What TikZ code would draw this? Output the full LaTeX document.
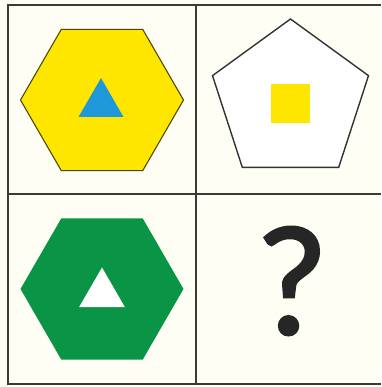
\documentclass[tikz,border=0pt]{standalone}
\usepackage{fontspec}
\newfontfamily\qfont[FakeBold=2]{Lato}
\usetikzlibrary{shapes.geometric}
\definecolor{paper}{HTML}{FFFEF4}
\definecolor{hexyellow}{HTML}{FFE600}
\definecolor{triblue}{HTML}{1E98D8}
\definecolor{hexgreen}{HTML}{0A9546}
\definecolor{gridline}{HTML}{3A3A36}

\begin{document}
\begin{tikzpicture}[
    grid/.style={draw=gridline, line width=1.1pt},
    hexa/.style={regular polygon, regular polygon sides=6, inner sep=0pt, minimum size=3.26cm},
    penta/.style={regular polygon, regular polygon sides=5, inner sep=0pt, minimum size=3.28cm, draw=black!80, line width=0.8pt, fill=white},
    tri/.style={regular polygon, regular polygon sides=3, inner sep=0pt, minimum size=1.04cm},
    sq/.style={rectangle, inner sep=0pt, minimum size=0.78cm, fill=hexyellow},
    qmark/.style={inner sep=0pt, font=\qfont\fontsize{84}{90}\selectfont, text=black!85}
]
\fill[paper] (0,0) rectangle (7.62,7.74);
\useasboundingbox (0,0) rectangle (7.62,7.74);

\draw[grid] (7.62,7.64) -- (0.16,7.64) -- (0.16,0.06) -- (7.62,0.06);
\draw[grid] (0.16,3.86) -- (7.62,3.86);
\draw[grid] (3.92,7.64) -- (3.92,0.06);

\node[hexa, fill=hexyellow, draw=black!70!hexyellow, line width=0.6pt] (hexA) at (2.04,5.74) {};
\node[tri, fill=triblue] (triA) at (2.02,5.66) {};

\node[penta] (pentB) at (5.81,5.72) {};
\node[sq] (sqB) at (5.80,5.66) {};

\node[hexa, fill=hexgreen] (hexC) at (2.04,1.96) {};
\node[tri, fill=white, minimum size=1.06cm] (triC) at (2.04,1.86) {};

\node[qmark] (ask) at (5.84,2.12) {?};
\end{tikzpicture}
\end{document}
